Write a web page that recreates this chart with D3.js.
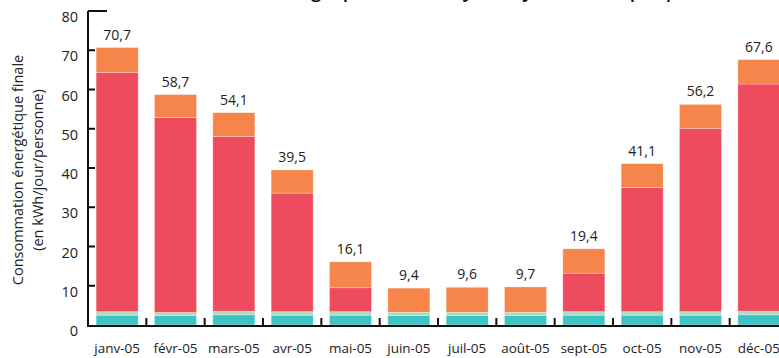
<!DOCTYPE html>
<html><head><meta charset="utf-8">
<script src="https://cdn.jsdelivr.net/npm/d3@7"></script>
<style>
body{margin:0;background:#fff;}
svg{display:block;font-family:"Open Sans",sans-serif;}
</style></head>
<body><svg id="c" width="779" height="358"></svg>
<script>
const months = ["janv-05","févr-05","mars-05","avr-05","mai-05","juin-05","juil-05","août-05","sept-05","oct-05","nov-05","déc-05"];
const totals = [70.7,58.7,54.1,39.5,16.1,9.4,9.6,9.7,19.4,41.1,56.2,67.6];
const teal   = [2.5,2.4,2.6,2.5,2.5,2.4,2.4,2.4,2.5,2.5,2.5,2.6];
const light  = [0.9,0.8,0.9,0.9,0.9,0.85,0.85,0.85,0.9,0.9,0.9,0.9];
const red    = [60.9,49.7,44.5,30.2,6.1,0,0,0,9.8,31.6,46.7,57.9];
const orange = totals.map((t,i)=>+(t-teal[i]-light[i]-red[i]).toFixed(2));
const yTicks = [0,10,20,30,40,50,60,70,80];
const labels = ["70,7","58,7","54,1","39,5","16,1","9,4","9,6","9,7","19,4","41,1","56,2","67,6"];
const title = "Consommation d'énergie par mois, moyenne journalière par personne";

const keys = ["teal","light","red","orange"];
const colors = {teal:"#3FC2C4",light:"#A9DDC2",red:"#EF4B5F",orange:"#F5854A"};
const data = months.map((m,i)=>({month:m,teal:teal[i],light:light[i],red:red[i],orange:orange[i]}));
const stack = d3.stack().keys(keys)(data);

const svg = d3.select("#c");
const x = d3.scaleBand().domain(months).range([88,788]).paddingInner(0.28).paddingOuter(0.14);
const y = d3.scaleLinear().domain([0,80]).range([325,11]);

// title (mostly cropped, as in the reference)
svg.append("text").attr("x",430).attr("y",-3).attr("text-anchor","middle")
  .attr("font-size",19).attr("font-weight",600).attr("fill","#111").text(title);

// bars
svg.append("g").selectAll("g").data(stack).join("g")
  .attr("fill",d=>colors[d.key])
  .selectAll("rect").data(d=>d).join("rect")
  .attr("x",d=>x(d.data.month))
  .attr("width",x.bandwidth())
  .attr("y",d=>y(d[1]))
  .attr("height",d=>Math.max(0,y(d[0])-y(d[1])))
  .attr("stroke","rgba(255,255,255,0.35)").attr("stroke-width",0.8);

// value labels
svg.append("g").selectAll("text").data(months).join("text")
  .attr("x",d=>x(d)+x.bandwidth()/2)
  .attr("y",(d,i)=>y(totals[i])-8)
  .attr("text-anchor","middle").attr("font-size",14).attr("fill","#222")
  .text((d,i)=>labels[i]);

// y axis
const ya = svg.append("g");
ya.append("line").attr("x1",88).attr("x2",88).attr("y1",y(80)).attr("y2",y(0)+1)
  .attr("stroke","#111").attr("stroke-width",2);
ya.selectAll("line.t").data(yTicks.filter(v=>v>0)).join("line").attr("class","t")
  .attr("x1",88).attr("x2",d=>d===80?107:95).attr("y1",d=>y(d)).attr("y2",d=>y(d))
  .attr("stroke","#111").attr("stroke-width",2);
ya.selectAll("text").data(yTicks).join("text")
  .attr("x",78).attr("y",d=>y(d)+11).attr("text-anchor","end")
  .attr("font-size",14.5).attr("fill","#222").text(d=>d);

// x axis
const xa = svg.append("g");
xa.append("line").attr("x1",87).attr("x2",779).attr("y1",326).attr("y2",326)
  .attr("stroke","#111").attr("stroke-width",2);
xa.selectAll("line.t").data(months.slice(1)).join("line").attr("class","t")
  .attr("x1",d=>x(d)-x.step()*x.paddingInner()/2).attr("x2",d=>x(d)-x.step()*x.paddingInner()/2)
  .attr("y1",318).attr("y2",326).attr("stroke","#111").attr("stroke-width",2);
xa.selectAll("text").data(months).join("text")
  .attr("x",d=>x(d)+x.bandwidth()/2).attr("y",353)
  .attr("text-anchor","middle").attr("font-size",13.5).attr("fill","#222").text(d=>d);

// y label
const yl = svg.append("text").attr("transform","translate(23,170) rotate(-90)")
  .attr("text-anchor","middle").attr("font-size",14.5).attr("fill","#222");
yl.append("tspan").attr("x",0).attr("dy",0).text("Consommation énergétique finale");
yl.append("tspan").attr("x",0).attr("dy",20).text("(en kWh/jour/personne)");
</script></body></html>
